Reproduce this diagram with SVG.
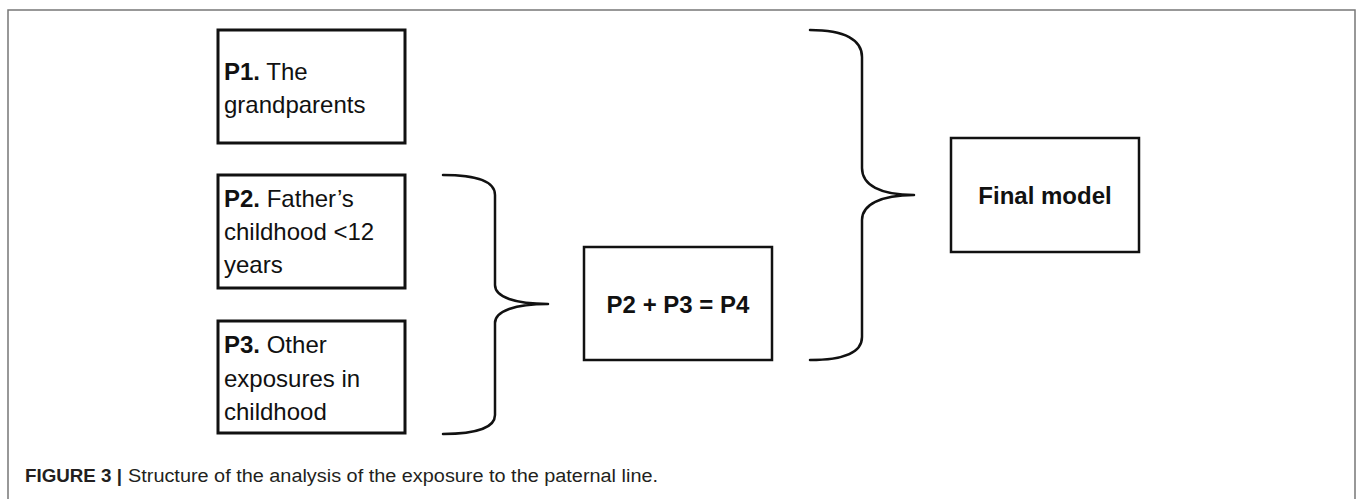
<svg xmlns="http://www.w3.org/2000/svg" width="1358" height="499" viewBox="0 0 1358 499">
  <style>
    .frame { fill: none; stroke: #777777; stroke-width: 1.5; }
    .box { fill: #ffffff; stroke: #111111; stroke-width: 3; }
    .box2 { fill: #ffffff; stroke: #111111; stroke-width: 2.5; }
    .brace { fill: none; stroke: #111111; stroke-width: 2.5; stroke-linecap: round; stroke-linejoin: round; }
    .t { font-family: "Liberation Sans", Arial, sans-serif; font-size: 24px; fill: #111111; }
    .b { font-weight: bold; }
    .cap { font-family: "Liberation Sans", Arial, sans-serif; font-size: 18px; fill: #231f20; }
  </style>
  <rect x="0" y="0" width="1358" height="499" fill="#ffffff"/>
  <path class="frame" d="M8,505 L8,10 L1355,10 L1355,505"/>

  <g id="p1">
    <rect class="box" x="218" y="30" width="187" height="113"/>
    <text class="t" x="224" y="80"><tspan class="b">P1.</tspan> The</text>
    <text class="t" x="224" y="113">grandparents</text>
  </g>

  <g id="p2">
    <rect class="box" x="218" y="175" width="187" height="113"/>
    <text class="t" x="224" y="207"><tspan class="b">P2.</tspan> Father’s</text>
    <text class="t" x="224" y="240">childhood &lt;12</text>
    <text class="t" x="224" y="273">years</text>
  </g>

  <g id="p3">
    <rect class="box" x="218" y="321" width="187" height="112"/>
    <text class="t" x="224" y="353"><tspan class="b">P3.</tspan> Other</text>
    <text class="t" x="224" y="387">exposures in</text>
    <text class="t" x="224" y="420">childhood</text>
  </g>

  <g id="p4">
    <rect class="box2" x="584" y="247" width="188" height="113"/>
    <text class="t b" x="678" y="313" text-anchor="middle">P2 + P3 = P4</text>
  </g>

  <g id="final">
    <rect class="box2" x="951" y="138" width="188" height="114"/>
    <text class="t b" x="1045" y="204" text-anchor="middle">Final model</text>
  </g>

  <g id="connectors">
    <path class="brace" d="M443,175 C478,175 495,182 495,195 L495,285 C495,297 515,304 548,304 C515,304 495,311 495,323 L495,415 C495,427 478,434 443,434"/>
    <path class="brace" d="M810,30 C845,30 862,40 862,57 L862,168 C862,185 880,195 914,195 C880,195 862,205 862,220 L862,337 C862,352 845,360 810,360"/>
  </g>

  <g id="caption">
    <text class="cap" x="25" y="482" font-weight="bold" textLength="97" lengthAdjust="spacingAndGlyphs">FIGURE 3 |</text>
    <text class="cap" x="128" y="482" textLength="530" lengthAdjust="spacingAndGlyphs">Structure of the analysis of the exposure to the paternal line.</text>
  </g>
</svg>
